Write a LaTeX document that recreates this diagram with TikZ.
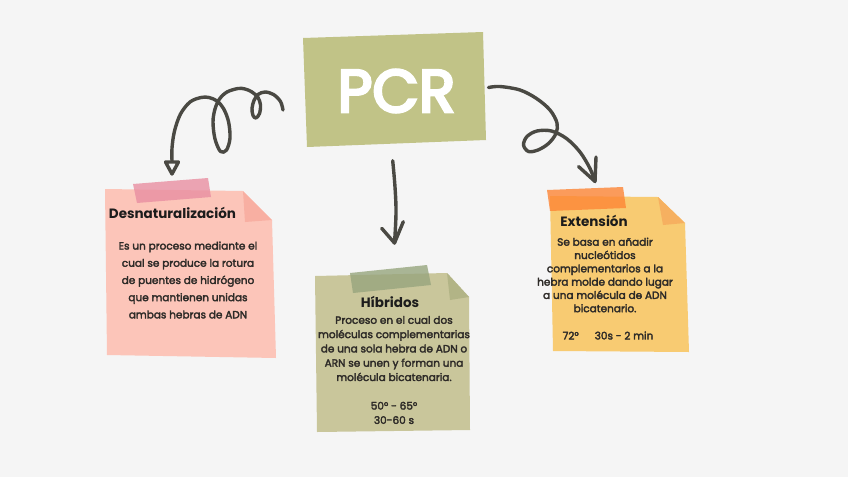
\documentclass[tikz,border=0pt]{standalone}
\usepackage{fontspec}
\setmainfont{Poppins}
\usetikzlibrary{arrows.meta}
\definecolor{bg}{HTML}{F5F5F5}
\definecolor{pcrbox}{HTML}{C1C387}
\definecolor{ink}{HTML}{4A4943}
\definecolor{pinkpaper}{HTML}{FCC5B9}
\definecolor{pinkfold}{HTML}{F8AFA2}
\definecolor{pinktape}{HTML}{E98FA2}
\definecolor{khakipaper}{HTML}{C9C69B}
\definecolor{khakifold}{HTML}{B2B486}
\definecolor{khakitape}{HTML}{97A57E}
\definecolor{yellowpaper}{HTML}{F8CB72}
\definecolor{yellowfold}{HTML}{F6B060}
\definecolor{orangetape}{HTML}{FD8535}
\definecolor{titleink}{HTML}{1C1C1C}
\definecolor{bodyink}{HTML}{2E2B28}
\newcommand{\heavytext}[1]{\special{pdf:literal direct 2 Tr 2.8 w 1 1 1 RG}#1\special{pdf:literal direct 0 Tr}}
\newcommand{\bodyheavy}{\special{pdf:literal direct 2 Tr 0.3 w 0.18 0.169 0.157 RG}}
\newcommand{\bodylight}{\special{pdf:literal direct 0 Tr}}
\begin{document}
\begin{tikzpicture}[x=1pt,y=-1pt,
  curl/.style={draw=ink,line width=3.4pt,line cap=round,line join=round},
  tape/.style={fill opacity=0.8},
  title/.style={inner sep=0pt,text=titleink,font=\fontsize{13.5}{14}\selectfont\bfseries},
  body/.style={inner sep=0pt,align=center,text=bodyink}]
\fill[bg] (0,0) rectangle (848,477);
\useasboundingbox (0,0) rectangle (848,477);

% PCR box
\fill[pcrbox] (303,38) -- (483,32) -- (486,140) -- (307,147) -- cycle;
\node[inner sep=0pt,text=white,font=\fontsize{60}{60}\selectfont] (pcr) at (396.5,91) {\heavytext{PCR}};

% left note
\fill[pinkpaper] (105,189) -- (243,191) -- (272,220) -- (276,358) -- (107,355) -- cycle;
\fill[pinkfold] (243,191) -- (272,220) -- (245,222) -- cycle;
\fill[pinktape,tape] (133,184) -- (208,178) -- (211,197) -- (137,203) -- cycle;
\node[title] (t1) at (172.5,212.5) {Desnaturalización};
\node[body,font=\fontsize{10.5}{17.2}\selectfont] (b1) at (188,280) {\bodyheavy Es un proceso mediante el\\\bodyheavy cual se produce la rotura\\\bodyheavy de puentes de hidrógeno\\\bodyheavy que mantienen unidas\\\bodyheavy ambas hebras de ADN\bodylight};

% middle note
\fill[khakipaper] (315,276) -- (447,273) -- (469,297) -- (470,430) -- (317,432) -- cycle;
\fill[khakifold] (447,273) -- (469,297) -- (450,300) -- cycle;
\fill[khakitape,tape] (350,273) -- (427,265) -- (431,285) -- (353,293) -- cycle;
\node[title] (t2) at (390,301.5) {Híbridos};
\node[body,font=\fontsize{10.5}{14.3}\selectfont] (b2) at (394,370) {\bodyheavy Proceso en el cual dos\\\bodyheavy moléculas complementarias\\\bodyheavy de una sola hebra de ADN o\\\bodyheavy ARN se unen y forman una\\\bodyheavy molécula bicatenaria.\\[14.3pt]\bodyheavy 50° - 65°\\\bodyheavy 30-60 s\bodylight};

% right note
\fill[yellowpaper] (550,196) -- (658,197) -- (685,223) -- (689,352) -- (553,351) -- cycle;
\fill[yellowfold] (658,197) -- (685,223) -- (663,225) -- cycle;
\fill[orangetape,tape] (547,190) -- (623,187) -- (626,208) -- (550,211) -- cycle;
\node[title] (t3) at (594,220.5) {Extensión};
\node[body,font=\fontsize{10.5}{13.3}\selectfont] (b3) at (605,275) {\bodyheavy Se basa en añadir\\\bodyheavy nucleótidos\\\bodyheavy complementarios a la\\\bodyheavy hebra molde dando lugar\\\bodyheavy a una molécula de ADN\\\bodyheavy bicatenario.\bodylight};
\node[body,font=\fontsize{10.5}{13.3}\selectfont] (b3b) at (608,335.5) {\bodyheavy 72°\hspace{16pt}30s - 2 min\bodylight};

% connectors
\coordinate (lS) at (283,110);
\coordinate (lE) at (172,161);
\coordinate (mS) at (392.7,160.7);
\coordinate (mE) at (394.5,243);
\coordinate (rS) at (488.5,87.5);
\coordinate (rE) at (595,181.5);

\draw[curl] plot[smooth,tension=0.55] coordinates {(lS) (280.5,101.5) (273.5,94.5) (265,92) (258,94.5) (254,100.5) (252,108.5) (253,115.5) (256,118) (259.5,113.5) (260.5,105) (258,97.5) (252,92) (245,89) (238,88.5) (227,92) (219.5,99) (215,109) (213,122) (215,139) (220.5,151.5) (226.5,150) (230,138) (228.5,121.5) (223.5,108.5) (217,101) (209,97.5) (201,97.5) (190,102) (180.5,114) (174.5,131) (172,148) (lE)};
\draw[curl,fill=bg] (lE) ++(-6.5,1) -- ++(13,0) -- ++(-6.5,12) -- cycle;

\draw[curl] plot[smooth,tension=0.6] coordinates {(mS) (395,187) (396,213) (mE)};
\draw[curl] (mE) ++(-12.8,-14.7) -- (mE) -- ++(8.8,-21.3);

\draw[curl] plot[smooth,tension=0.55] coordinates {(rS) (500,86.5) (520,90) (536.5,98.5) (550,110) (557,123) (556,133.5) (548.5,143.5) (538,150) (528.5,151.5) (523.5,145) (527,136.5) (537,131) (551.5,131) (566.5,138.5) (580,152) (590,168.5) (rE)};
\draw[curl] (rE) ++(-16.5,-15) -- (rE) -- ++(1,-24.5);
\end{tikzpicture}
\end{document}
